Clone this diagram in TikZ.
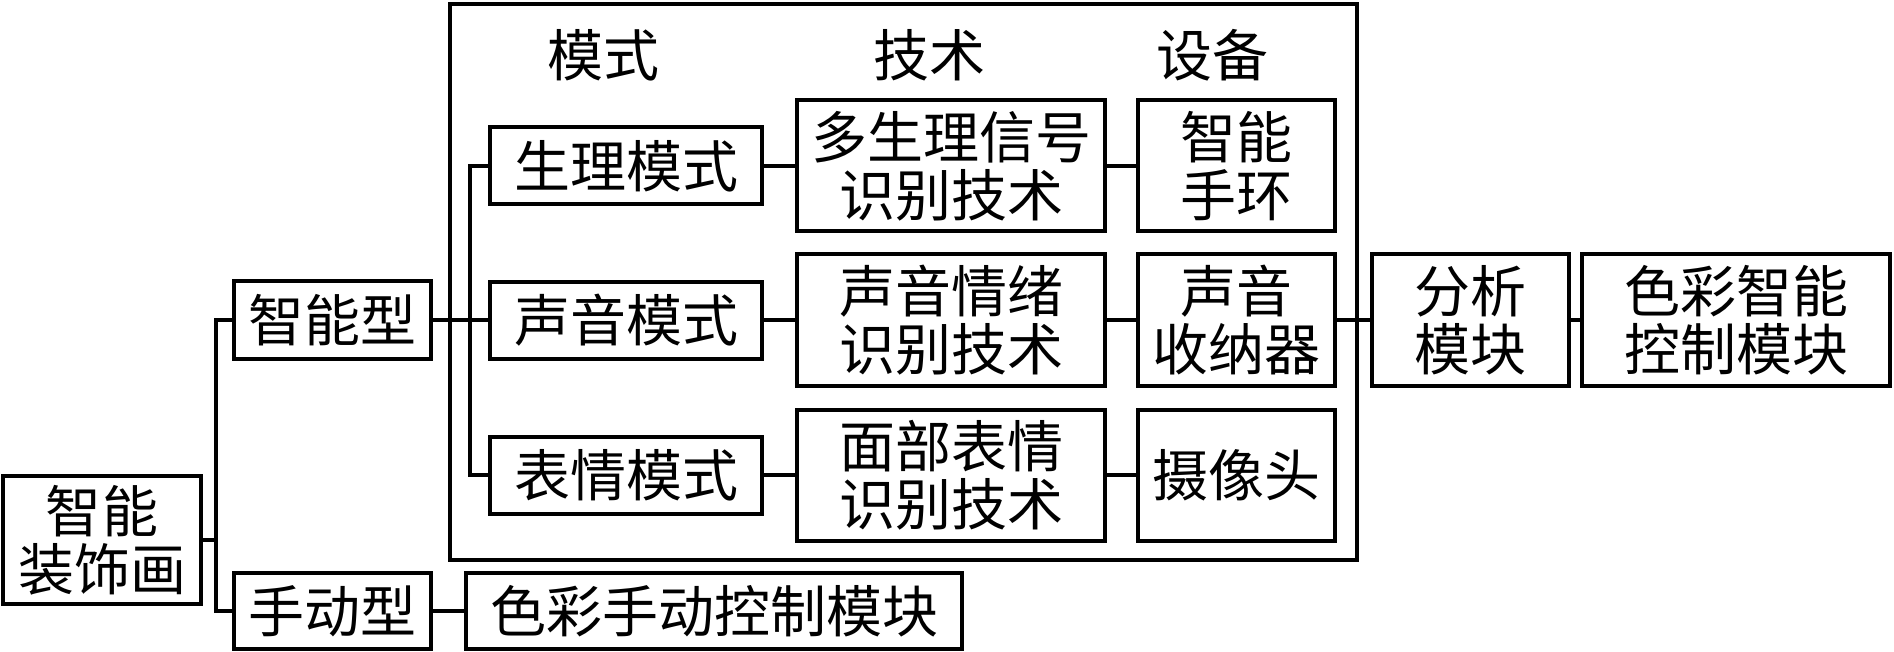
\documentclass[tikz,border=0pt]{standalone}
\usepackage{fontspec}
\newfontfamily\cjk{Noto Sans CJK SC}
\begin{document}
\begin{tikzpicture}[x=1pt,y=-1pt,
  box/.style={draw, line width=4pt, inner sep=0pt, align=center, font=\cjk\fontsize{56}{58}\selectfont},
  head/.style={inner sep=0pt, font=\cjk\fontsize{56}{58}\selectfont},
  wire/.style={line width=4pt}]
\useasboundingbox (0,0) rectangle (1894,652);
% container
\draw[wire] (450,4) rectangle (1357,560);
\node[head] (h1) at (603,55) {模式};
\node[head] (h2) at (929,55) {技术};
\node[head] (h3) at (1212,55) {设备};
% left part
\node[box, minimum width=198pt, minimum height=128pt] (root) at (102,540) {智能\\装饰画};
\node[box, minimum width=197pt, minimum height=78pt] (smart) at (332,320) {智能型};
\node[box, minimum width=197pt, minimum height=76pt] (manual) at (332,611) {手动型};
\node[box, minimum width=496pt, minimum height=76pt] (manctl) at (714,611) {色彩手动控制模块};
% modes
\node[box, minimum width=272pt, minimum height=77pt] (m1) at (626,166) {生理模式};
\node[box, minimum width=272pt, minimum height=77pt] (m2) at (626,320) {声音模式};
\node[box, minimum width=272pt, minimum height=77pt] (m3) at (626,475) {表情模式};
% technologies
\node[box, minimum width=308pt, minimum height=131pt] (t1) at (951,166) {多生理信号\\识别技术};
\node[box, minimum width=308pt, minimum height=131pt] (t2) at (951,320) {声音情绪\\识别技术};
\node[box, minimum width=308pt, minimum height=131pt] (t3) at (951,475) {面部表情\\识别技术};
% devices
\node[box, minimum width=197pt, minimum height=131pt] (d1) at (1236,166) {智能\\手环};
\node[box, minimum width=197pt, minimum height=131pt] (d2) at (1236,320) {声音\\收纳器};
\node[box, minimum width=197pt, minimum height=131pt] (d3) at (1236,475) {摄像头};
% right part
\node[box, minimum width=197pt, minimum height=131pt] (ana) at (1470,320) {分析\\模块};
\node[box, minimum width=308pt, minimum height=131pt] (colctl) at (1736,320) {色彩智能\\控制模块};
% buses
\coordinate (bus1) at (216,0);
\coordinate (bus2) at (470,0);
\draw[wire] (smart.west) -- (smart.west -| bus1) -- (manual.west -| bus1) -- (manual.west);
\draw[wire] (root.east) -- (root.east -| bus1);
\draw[wire] (m1.west) -- (m1.west -| bus2) -- (m3.west -| bus2) -- (m3.west);
\draw[wire] (smart.east) -- (m2.west);
\draw[wire] (manual.east) -- (manctl.west);
\draw[wire] (m1.east) -- (t1.west);
\draw[wire] (m2.east) -- (t2.west);
\draw[wire] (m3.east) -- (t3.west);
\draw[wire] (t1.east) -- (d1.west);
\draw[wire] (t2.east) -- (d2.west);
\draw[wire] (t3.east) -- (d3.west);
\draw[wire] (d2.east) -- (ana.west);
\draw[wire] (ana.east) -- (colctl.west);
\end{tikzpicture}
\end{document}
